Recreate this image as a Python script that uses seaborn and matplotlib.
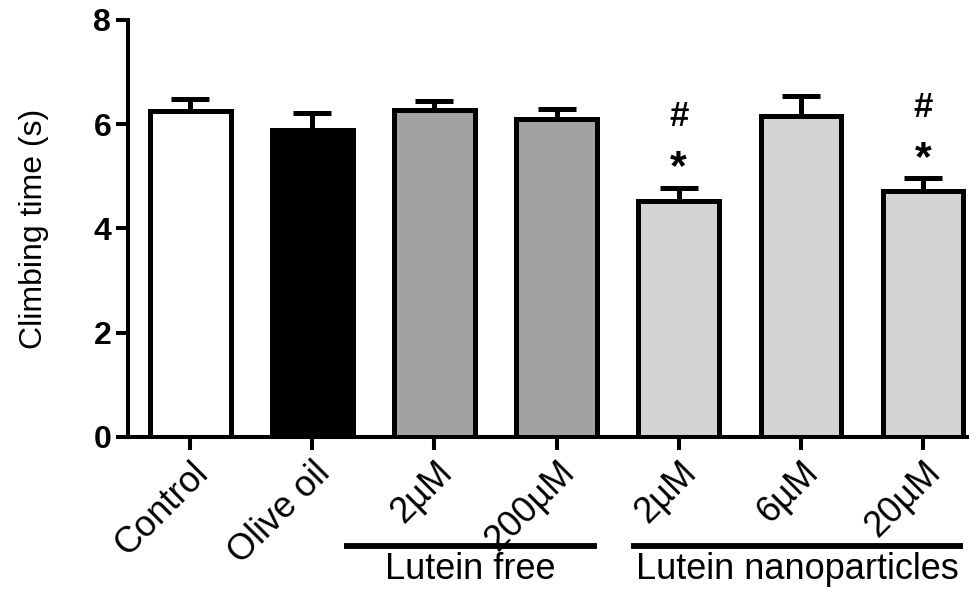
import matplotlib
matplotlib.use("Agg")
import matplotlib.pyplot as plt
import matplotlib.transforms as mtransforms
import seaborn as sns
import pandas as pd
import numpy as np

# ---- data ----
group_ids = ["Control", "Olive oil", "Free 2", "Free 200", "Nano 2", "Nano 6", "Nano 20"]
tick_labels = ["Control", "Olive oil", "2µM", "200µM", "2µM", "6µM", "20µM"]
means = [6.25, 5.88, 6.27, 6.10, 4.52, 6.15, 4.71]
sem = [0.23, 0.33, 0.17, 0.19, 0.25, 0.39, 0.25]
bar_colors = ["#FFFFFF", "#000000", "#A2A1A6", "#A2A1A6", "#D3D3D3", "#D3D3D3", "#D3D3D3"]
marks = ["", "", "", "", "#\n*", "", "#\n*"]
group_names = ["Lutein free", "Lutein nanoparticles"]
yticks = [0, 2, 4, 6, 8]

df = pd.DataFrame({"group": group_ids, "time": means})

sns.set_style("ticks")
plt.rcParams["font.family"] = ["Liberation Sans", "DejaVu Sans"]
plt.rcParams.update({"text.color": "black", "axes.labelcolor": "black",
                     "xtick.color": "black", "ytick.color": "black",
                     "axes.edgecolor": "black"})

fig = plt.figure(figsize=(9.8, 5.91), dpi=100)
ax = fig.add_axes([0.1306, 0.2606, 0.856, 0.7056])

sns.barplot(data=df, x="group", y="time", order=group_ids, hue="group",
            palette=dict(zip(group_ids, bar_colors)), legend=False,
            width=0.66, edgecolor="black", linewidth=3.6, errorbar=None,
            ax=ax, zorder=2)

xpos = np.arange(len(group_ids))
ax.errorbar(xpos, means, yerr=[np.zeros(len(sem)), sem], fmt="none",
            ecolor="black", elinewidth=3.6, capsize=14, capthick=3.6, zorder=1)

# significance marks
for i, m in enumerate(marks):
    if m:
        top = means[i] + sem[i]
        ax.text(i, top + 0.38, "*", ha="center", va="center",
                fontsize=31, fontweight="bold", color="black")
        ax.text(i, top + 1.37, "#", ha="center", va="center",
                fontsize=25, fontweight="bold", color="black")

ax.set_xlim(-0.51, 6.36)
ax.set_ylim(0, 8)
ax.set_yticks(yticks)
ax.set_yticklabels([str(t) for t in yticks], fontsize=23, fontweight="bold")
ax.set_xticks(xpos)
ax.set_xticklabels(tick_labels, fontsize=26, rotation=45, ha="right",
                   va="top", rotation_mode="anchor")
ax.set_xlabel("")
ax.set_ylabel("Climbing time (s)", fontsize=23, labelpad=32)

for s in ["top", "right"]:
    ax.spines[s].set_visible(False)
for s in ["left", "bottom"]:
    ax.spines[s].set_linewidth(2.9)
    ax.spines[s].set_color("black")
ax.tick_params(axis="both", width=2.9, length=9, color="black", labelcolor="black")
ax.tick_params(axis="y", pad=3)
ax.tick_params(axis="x", pad=4)

# group brackets under the tick labels
trans = mtransforms.blended_transform_factory(ax.transData, ax.transAxes)
spans = [(1.26, 3.33), (3.61, 6.33)]
for (x0, x1), name in zip(spans, group_names):
    ax.plot([x0, x1], [-0.261, -0.261], color="black", lw=4.2,
            transform=trans, clip_on=False, solid_capstyle="butt")
    ax.text((x0 + x1) / 2, -0.318, name, transform=trans, ha="center",
            va="center", fontsize=26, color="black")

fig.savefig("out.png", dpi=100, facecolor="white")
